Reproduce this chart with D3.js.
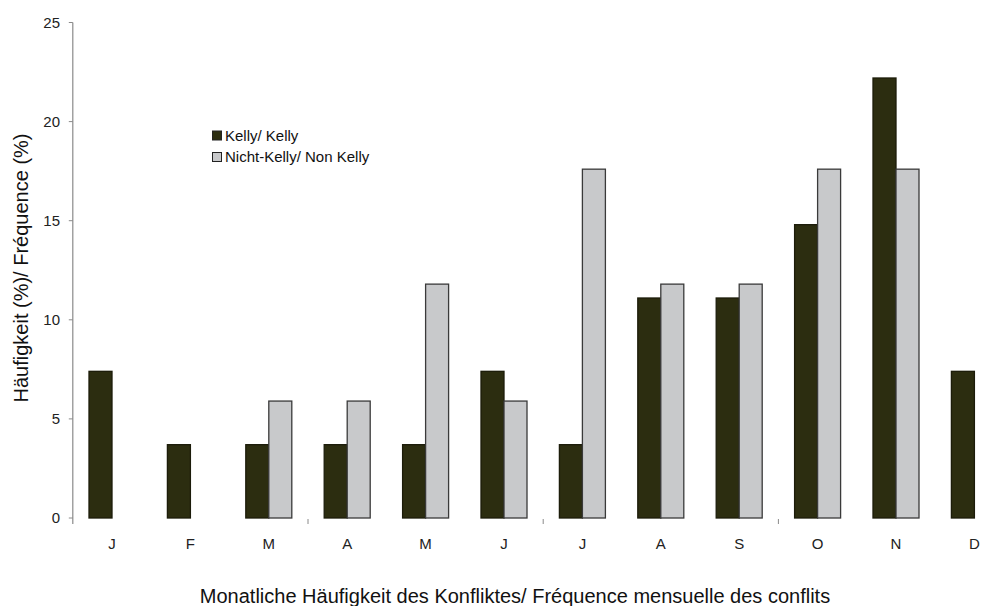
<!DOCTYPE html>
<html><head><meta charset="utf-8">
<script src="https://cdn.jsdelivr.net/npm/d3@7"></script>
<style>body{margin:0;background:#fff}svg{display:block;font-family:"Liberation Sans",Arial,sans-serif}</style>
</head><body><svg id="c" width="1003" height="606"></svg>
<script>
const months = ["J","F","M","A","M","J","J","A","S","O","N","D"];
const kelly = [7.4,3.7,3.7,3.7,3.7,7.4,3.7,11.1,11.1,14.8,22.2,7.4];
const nonKelly = [0,0,5.9,5.9,11.8,5.9,17.6,11.8,11.8,17.6,17.6,0];
const seriesNames = ["Kelly/ Kelly","Nicht-Kelly/ Non Kelly"];
const yTicks = [0,5,10,15,20,25];

const svg = d3.select("#c");
const x0 = 72.8, step = 78.4, xEnd = x0 + step*12;
const x = d3.scaleBand().domain(d3.range(12)).range([x0, xEnd]).paddingInner(0).paddingOuter(0);
const y = d3.scaleLinear().domain([0,25]).range([518,22.5]);
const bw = 23;
const colors = ["#2c2d10","#c8c9cb"];
const strokes = ["#1c1c0a","#3a3a3a"];

// y axis
svg.append("line").attr("x1",x0).attr("x2",x0).attr("y1",y(25)).attr("y2",524).attr("stroke","#8a8a8a").attr("stroke-width",1.2);
const yt = svg.append("g");
yTicks.forEach(t=>{
  yt.append("line").attr("x1",x0-4).attr("x2",x0).attr("y1",y(t)).attr("y2",y(t)).attr("stroke","#8a8a8a");
  yt.append("text").attr("x",60).attr("y",y(t)).attr("dy","0.36em").attr("text-anchor","end")
    .attr("font-size",15).attr("fill","#222").text(t);
});
// x minor ticks every 3 months
[3,6,9].forEach(i=>{
  svg.append("line").attr("x1",x0+i*step).attr("x2",x0+i*step).attr("y1",519).attr("y2",524).attr("stroke","#8a8a8a");
});

// bars
const g = svg.append("g");
months.forEach((m,i)=>{
  const cx = x(i) + x.bandwidth()/2;
  [kelly[i], nonKelly[i]].forEach((v,s)=>{
    if (v<=0) return;
    g.append("rect").attr("x", cx - bw + s*bw).attr("y", y(v)).attr("width", bw).attr("height", y(0)-y(v))
      .attr("fill", colors[s]).attr("stroke", strokes[s]).attr("stroke-width",1.3);
  });
  svg.append("text").attr("x",cx).attr("y",549).attr("text-anchor","middle").attr("font-size",15).attr("fill","#222").text(m);
});

// legend
seriesNames.forEach((n,i)=>{
  const ly = 135.5 + i*21.5;
  svg.append("rect").attr("x",212.5).attr("y",ly-4.5).attr("width",9).attr("height",9)
    .attr("fill",colors[i]).attr("stroke","#222").attr("stroke-width",1);
  svg.append("text").attr("x",225).attr("y",ly).attr("dy","0.36em").attr("font-size",15).attr("fill","#111").text(n);
});

// axis titles
svg.append("text").attr("transform","translate(28,268) rotate(-90)").attr("text-anchor","middle")
  .attr("font-size",20).attr("fill","#111").text("Häufigkeit (%)/ Fréquence (%)");
svg.append("text").attr("x",515).attr("y",603).attr("text-anchor","middle")
  .attr("font-size",20).attr("fill","#111").text("Monatliche Häufigkeit des Konfliktes/ Fréquence mensuelle des conflits");
</script></body></html>
